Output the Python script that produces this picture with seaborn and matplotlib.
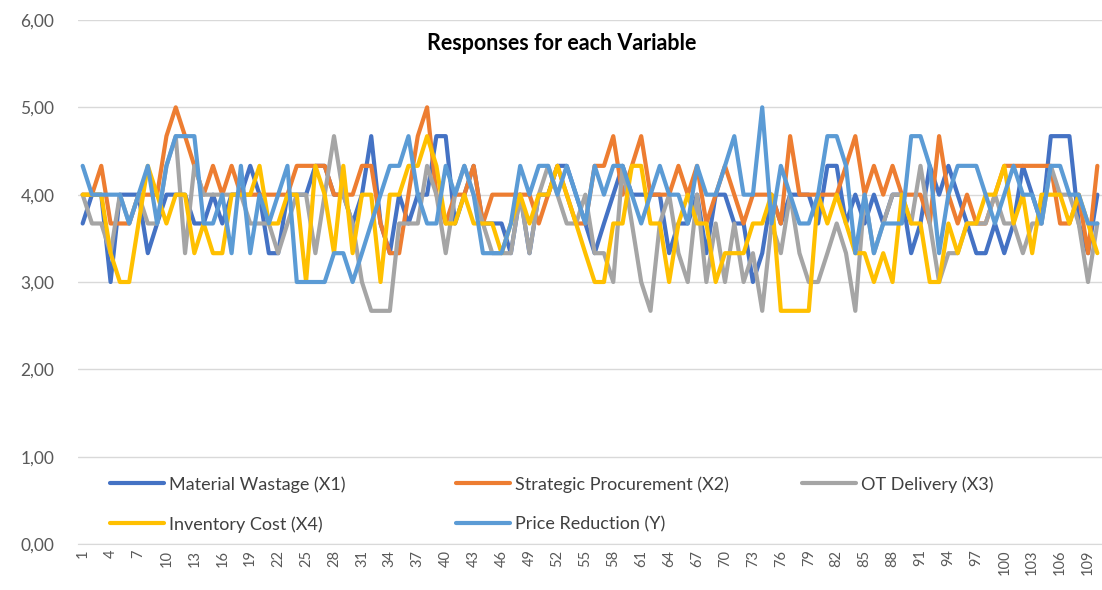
import matplotlib
matplotlib.use("Agg")
import matplotlib.pyplot as plt
import seaborn as sns
import pandas as pd
from matplotlib.ticker import FuncFormatter

# respondent index 1..110
points = list(range(1, 111))

material_wastage = [
    3.67, 4.00, 4.00, 3.00, 4.00, 4.00, 4.00, 3.33, 3.67, 4.00, 4.00,
    4.00, 3.67, 3.67, 4.00, 3.67, 4.00, 4.00, 4.33, 4.00, 3.33, 3.33,
    4.00, 4.00, 4.00, 4.33, 4.33, 4.00, 4.00, 3.67, 4.00, 4.67, 3.67,
    3.33, 4.00, 3.67, 4.00, 4.00, 4.67, 4.67, 3.67, 4.00, 4.33, 3.67,
    3.67, 3.67, 3.33, 4.00, 3.33, 4.00, 4.00, 4.33, 4.33, 4.00, 3.67,
    3.33, 3.67, 4.00, 4.33, 4.00, 4.00, 4.00, 4.00, 3.33, 3.67, 3.67,
    4.00, 3.33, 4.00, 4.00, 3.67, 3.67, 3.00, 3.33, 4.00, 3.67, 4.00,
    4.00, 4.00, 3.67, 4.33, 4.33, 3.67, 4.00, 3.67, 4.00, 3.67, 4.00,
    4.00, 3.33, 3.67, 4.33, 4.00, 4.33, 4.00, 3.67, 3.33, 3.33, 3.67,
    3.33, 3.67, 4.33, 4.00, 3.67, 4.67, 4.67, 4.67, 3.67, 3.33, 4.00,
]
strategic_procurement = [
    4.00, 4.00, 4.33, 3.67, 3.67, 3.67, 4.00, 4.00, 4.00, 4.67, 5.00,
    4.67, 4.33, 4.00, 4.33, 4.00, 4.33, 4.00, 4.00, 4.00, 4.00, 4.00,
    4.00, 4.33, 4.33, 4.33, 4.33, 4.00, 4.00, 4.00, 4.33, 4.33, 3.67,
    3.33, 3.33, 4.00, 4.67, 5.00, 4.00, 3.67, 4.00, 4.00, 4.33, 3.67,
    4.00, 4.00, 4.00, 4.00, 4.00, 3.67, 4.00, 4.33, 4.00, 3.67, 3.67,
    4.33, 4.33, 4.67, 4.00, 4.33, 4.67, 4.00, 4.00, 4.00, 4.33, 4.00,
    4.33, 3.67, 4.00, 4.33, 4.00, 3.67, 4.00, 4.00, 4.00, 3.67, 4.67,
    4.00, 4.00, 4.00, 4.00, 4.00, 4.33, 4.67, 4.00, 4.33, 4.00, 4.33,
    4.00, 4.00, 4.00, 3.67, 4.67, 4.00, 3.67, 4.00, 3.67, 3.67, 4.00,
    4.33, 4.33, 4.33, 4.33, 4.33, 4.33, 3.67, 3.67, 4.00, 3.33, 4.33,
]
ot_delivery = [
    4.00, 3.67, 3.67, 3.33, 4.00, 3.67, 4.00, 3.67, 3.67, 4.33, 4.67,
    3.33, 4.33, 4.00, 4.00, 4.00, 4.00, 4.00, 3.67, 3.67, 3.67, 3.33,
    3.67, 4.00, 4.00, 3.33, 4.00, 4.67, 4.00, 3.67, 3.00, 2.67, 2.67,
    2.67, 3.67, 3.67, 3.67, 4.33, 4.00, 3.33, 4.00, 4.33, 4.00, 3.67,
    3.33, 3.33, 3.33, 4.00, 3.33, 4.00, 4.33, 4.00, 3.67, 3.67, 4.00,
    3.33, 3.33, 3.00, 4.33, 3.67, 3.00, 2.67, 3.67, 4.00, 3.33, 3.00,
    4.00, 3.00, 3.67, 3.00, 3.67, 3.00, 3.33, 2.67, 3.67, 3.33, 4.00,
    3.33, 3.00, 3.00, 3.33, 3.67, 3.33, 2.67, 4.00, 3.33, 3.67, 4.00,
    4.00, 3.67, 4.33, 3.67, 3.00, 3.33, 3.33, 3.67, 3.67, 3.67, 4.00,
    3.67, 3.67, 3.33, 3.67, 3.67, 4.33, 4.00, 4.00, 3.67, 3.00, 3.67,
]
inventory_cost = [
    4.00, 4.00, 4.00, 3.33, 3.00, 3.00, 3.67, 4.33, 4.00, 3.67, 4.00,
    4.00, 3.33, 3.67, 3.33, 3.33, 4.00, 4.00, 4.00, 4.33, 3.67, 3.67,
    4.00, 4.00, 3.00, 4.33, 4.00, 3.33, 4.33, 3.33, 4.00, 4.00, 3.00,
    4.00, 4.00, 4.33, 4.33, 4.67, 4.33, 3.67, 3.67, 4.00, 3.67, 3.67,
    3.67, 3.33, 3.67, 4.00, 3.67, 4.00, 4.00, 4.33, 4.00, 3.67, 3.33,
    3.00, 3.00, 3.67, 3.67, 4.33, 4.33, 3.67, 3.67, 3.00, 3.67, 4.00,
    3.67, 3.67, 3.00, 3.33, 3.33, 3.33, 3.67, 3.67, 4.00, 2.67, 2.67,
    2.67, 2.67, 4.00, 3.67, 4.00, 3.67, 3.33, 3.33, 3.00, 3.33, 3.00,
    4.00, 3.67, 3.67, 3.00, 3.00, 3.67, 3.33, 3.67, 3.67, 4.00, 4.00,
    4.33, 3.67, 4.00, 3.33, 4.00, 4.00, 4.00, 3.67, 4.00, 3.67, 3.33,
]
price_reduction = [
    4.33, 4.00, 4.00, 4.00, 4.00, 3.67, 4.00, 4.33, 3.67, 4.33, 4.67,
    4.67, 4.67, 3.67, 3.67, 4.00, 3.33, 4.33, 3.33, 4.00, 3.67, 4.00,
    4.33, 3.00, 3.00, 3.00, 3.00, 3.33, 3.33, 3.00, 3.33, 3.67, 4.00,
    4.33, 4.33, 4.67, 4.00, 3.67, 3.67, 4.33, 4.00, 4.33, 4.00, 3.33,
    3.33, 3.33, 3.67, 4.33, 4.00, 4.33, 4.33, 4.00, 4.33, 4.00, 3.67,
    4.33, 4.00, 4.33, 4.33, 4.00, 3.67, 4.00, 4.33, 4.00, 4.00, 3.67,
    4.33, 4.00, 4.00, 4.33, 4.67, 4.00, 4.00, 5.00, 3.67, 4.33, 4.00,
    3.67, 3.67, 4.00, 4.67, 4.67, 4.33, 3.33, 4.00, 3.33, 3.67, 3.67,
    3.67, 4.67, 4.67, 4.33, 3.33, 4.00, 4.33, 4.33, 4.33, 4.00, 3.67,
    4.00, 4.33, 4.00, 4.00, 3.67, 4.33, 4.33, 4.00, 4.00, 3.67, 3.67,
]

names = ["Material Wastage (X1)", "Strategic Procurement (X2)", "OT Delivery (X3)",
         "Inventory Cost (X4)", "Price Reduction (Y)"]
colors = ["#4472C4", "#ED7D31", "#A5A5A5", "#FFC000", "#5B9BD5"]

df = pd.DataFrame({"Point": points,
                   names[0]: material_wastage,
                   names[1]: strategic_procurement,
                   names[2]: ot_delivery,
                   names[3]: inventory_cost,
                   names[4]: price_reduction})
long_df = df.melt(id_vars="Point", var_name="Variable", value_name="Score")

sns.set_style("white")
plt.rcParams["font.family"] = ["Lato", "DejaVu Sans"]

W, H = 1102, 590
fig = plt.figure(figsize=(W / 100, H / 100), dpi=100)
ax = fig.add_axes([78 / W, 46 / H, 1024 / W, 524 / H])

sns.lineplot(data=long_df, x="Point", y="Score", hue="Variable", hue_order=names,
             palette=colors, estimator=None, linewidth=3.0, legend=False, ax=ax)

ax.set_xlim(0.5, 110.5)
ax.set_ylim(0, 6)
ax.set_yticks(range(0, 7))
ax.yaxis.set_major_formatter(FuncFormatter(lambda v, _: f"{v:.2f}".replace(".", ",")))
ax.set_xticks(points[::3])
ax.set_xticklabels([str(p) for p in points[::3]], rotation=90)
ax.tick_params(axis="y", length=0, pad=17, labelsize=12.5, labelcolor="#595959")
ax.tick_params(axis="x", length=0, pad=4, labelsize=10.5, labelcolor="#595959")
ax.set_xlabel("")
ax.set_ylabel("")
ax.grid(axis="y", color="#D9D9D9", linewidth=1)
ax.set_axisbelow(True)
for side in ["top", "right", "left"]:
    ax.spines[side].set_visible(False)
ax.spines["bottom"].set_color("#D9D9D9")

fig.text(562 / W, 1 - 44 / H, "Responses for each Variable", ha="center", va="center",
         fontsize=15.5, fontweight="bold", color="#000000")

lines = ax.get_lines()
columns = [[0, 3], [1, 4], [2]]
col_x = [110, 456, 802]
for idx, cx in zip(columns, col_x):
    fig.legend([lines[i] for i in idx], [names[i] for i in idx], loc="upper left",
               bbox_to_anchor=(cx / W, 1 - 476 / H), frameon=False, borderpad=0,
               borderaxespad=0, handlelength=3.0, handletextpad=0.25, labelspacing=1.3,
               fontsize=13, labelcolor="#404040")

fig.savefig("out.png", dpi=100)
